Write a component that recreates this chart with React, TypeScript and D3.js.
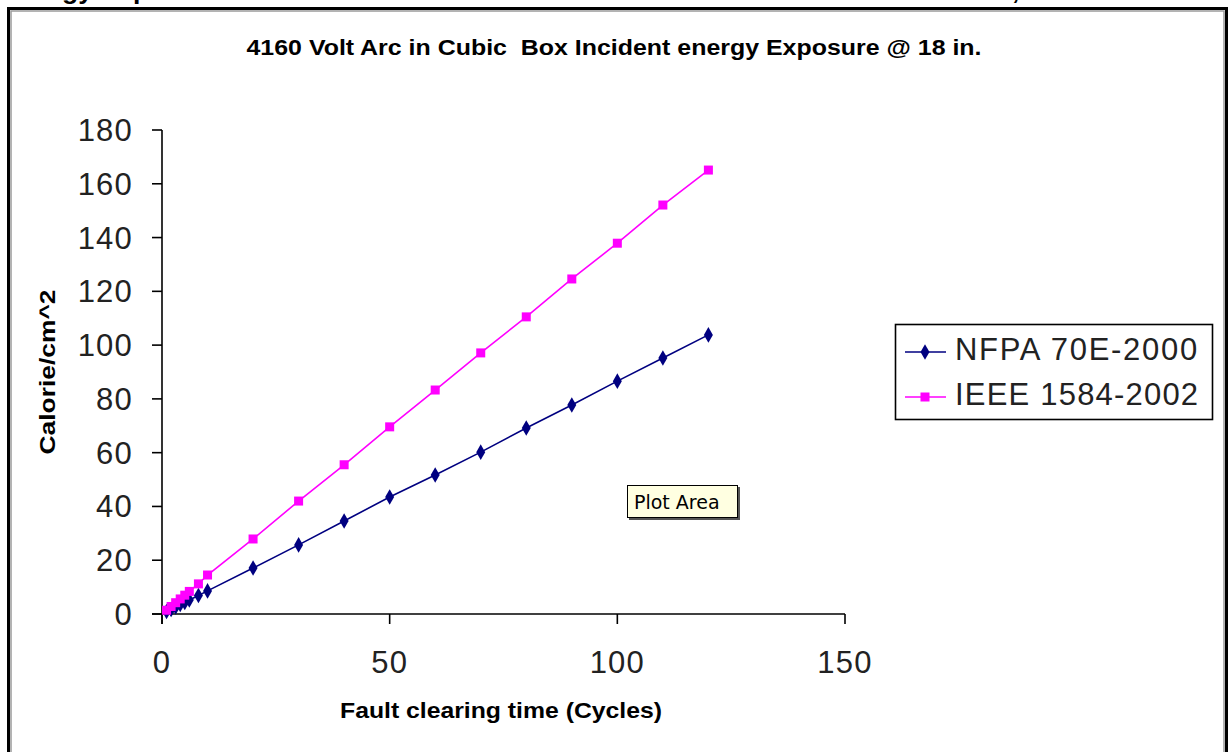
import React from 'react';
import * as d3 from 'd3';

// fault clearing time, cycles
const cycles = [1, 2, 3, 4, 5, 6, 8, 10, 20, 30, 40, 50, 60, 70, 80, 90, 100, 110, 120];
// incident energy, cal/cm^2
const nfpa = [0.9, 1.7, 2.6, 3.5, 4.3, 5.2, 6.9, 8.6, 17.1, 25.7, 34.6, 43.5, 51.7, 60.2, 69.2, 77.7, 86.6, 95.2, 103.8];
const ieee = [1.4, 2.8, 4.2, 5.6, 7.0, 8.4, 11.2, 14.5, 27.9, 42.0, 55.5, 69.6, 83.3, 97.1, 110.5, 124.6, 137.9, 152.1, 165.1];

const xTicks = [0, 50, 100, 150];
const yTicks = [0, 20, 40, 60, 80, 100, 120, 140, 160, 180];
const seriesNames = ['NFPA 70E-2000', 'IEEE 1584-2002'];

const W = 1231;
const H = 752;
const tickFont = '"Liberation Sans", Arial, sans-serif';
const boldFont = '"Liberation Sans", Arial, sans-serif';

export default function App() {
  const x = d3.scaleLinear().domain([0, 150]).range([162, 845]);
  const y = d3.scaleLinear().domain([0, 180]).range([614, 130]);

  const line = d3.line<number>()
    .x((_, i) => x(cycles[i]))
    .y(d => y(d));

  const diamond = d3.symbol().type(d3.symbolDiamond).size(70)();

  return (
    <svg width={W} height={H} style={{ position: 'absolute', left: 0, top: 0, background: '#fff' }}>
      {/* page text above the chart, clipped by the screenshot */}
      <text x={3} y={-1} fontFamily={boldFont} fontWeight="bold" fontSize={26.6} fill="#000">Energy Exposure</text>
      <text x={1012} y={-1} fontFamily={boldFont} fontWeight="bold" fontSize={26.6} fill="#000">,</text>

      {/* chart frame */}
      <rect x={8.5} y={8.5} width={1218} height={780} fill="#fff" stroke="#000" strokeWidth={3} />
      <rect x={11} y={11} width={1213} height={775} fill="none" stroke="#9a9a9a" strokeWidth={1.5} />

      <text x={614} y={55} textAnchor="middle" fontFamily={boldFont} fontWeight="bold" fontSize={22}
        textLength={735} lengthAdjust="spacingAndGlyphs" fill="#000" style={{ whiteSpace: 'pre' }}>
        {'4160 Volt Arc in Cubic  Box Incident energy Exposure @ 18 in.'}
      </text>

      {/* axes */}
      <g stroke="#000" strokeWidth={1.6} fill="none">
        <line x1={x(0)} x2={x(0)} y1={y(180)} y2={y(0) + 10} />
        <line x1={x(0) - 10} x2={x(150)} y1={y(0)} y2={y(0)} />
        {yTicks.map(t => (
          <line key={'yt' + t} x1={x(0) - 10} x2={x(0)} y1={y(t)} y2={y(t)} />
        ))}
        {xTicks.map(t => (
          <line key={'xt' + t} x1={x(t)} x2={x(t)} y1={y(0)} y2={y(0) + 10} />
        ))}
      </g>
      {yTicks.map(t => (
        <text key={'yl' + t} x={x(0) - 29} y={y(t) + 11} textAnchor="end" fontFamily={tickFont}
          fontSize={31} letterSpacing={1.2} fill="#222">{t}</text>
      ))}
      {xTicks.map(t => (
        <text key={'xl' + t} x={x(t)} y={673} textAnchor="middle" fontFamily={tickFont}
          fontSize={31} letterSpacing={1.2} fill="#222">{t}</text>
      ))}

      <text x={501} y={718} textAnchor="middle" fontFamily={boldFont} fontWeight="bold" fontSize={22}
        textLength={322} lengthAdjust="spacingAndGlyphs" fill="#000">Fault clearing time (Cycles)</text>
      <text transform="translate(55,372) rotate(-90)" textAnchor="middle" fontFamily={boldFont}
        fontWeight="bold" fontSize={22} textLength={165} lengthAdjust="spacingAndGlyphs" fill="#000">
        Calorie/cm^2
      </text>

      {/* series */}
      <path d={line(nfpa) || ''} fill="none" stroke="#000080" strokeWidth={1.6} />
      {nfpa.map((v, i) => (
        <path key={'n' + i} d={diamond || ''} transform={`translate(${x(cycles[i])},${y(v)})`} fill="#000080" />
      ))}
      <path d={line(ieee) || ''} fill="none" stroke="#ff00ff" strokeWidth={1.6} />
      {ieee.map((v, i) => (
        <rect key={'i' + i} x={x(cycles[i]) - 4.5} y={y(v) - 4.5} width={9} height={9} fill="#ff00ff" />
      ))}

      {/* legend */}
      <rect x={895.5} y={324.5} width={317} height={95} fill="#fff" stroke="#000" strokeWidth={1.6} />
      <line x1={905} x2={946} y1={352} y2={352} stroke="#000080" strokeWidth={1.6} />
      <path d={diamond || ''} transform="translate(925,352)" fill="#000080" />
      <text x={955} y={360} fontFamily={tickFont} fontSize={31} letterSpacing={1.7} fill="#222">{seriesNames[0]}</text>
      <line x1={905} x2={946} y1={397} y2={397} stroke="#ff00ff" strokeWidth={1.6} />
      <rect x={920.5} y={392.5} width={9} height={9} fill="#ff00ff" />
      <text x={955} y={405} fontFamily={tickFont} fontSize={31} letterSpacing={1.2} fill="#222">{seriesNames[1]}</text>

      {/* hover tooltip */}
      <rect x={629} y={487} width={111} height={33} fill="#555" />
      <rect x={627.5} y={485.5} width={110} height={32} fill="#ffffe1" stroke="#000" strokeWidth={1} />
      <text x={634} y={509} fontFamily={'Tahoma, "DejaVu Sans", sans-serif'} fontSize={19} fill="#000">Plot Area</text>
    </svg>
  );
}
